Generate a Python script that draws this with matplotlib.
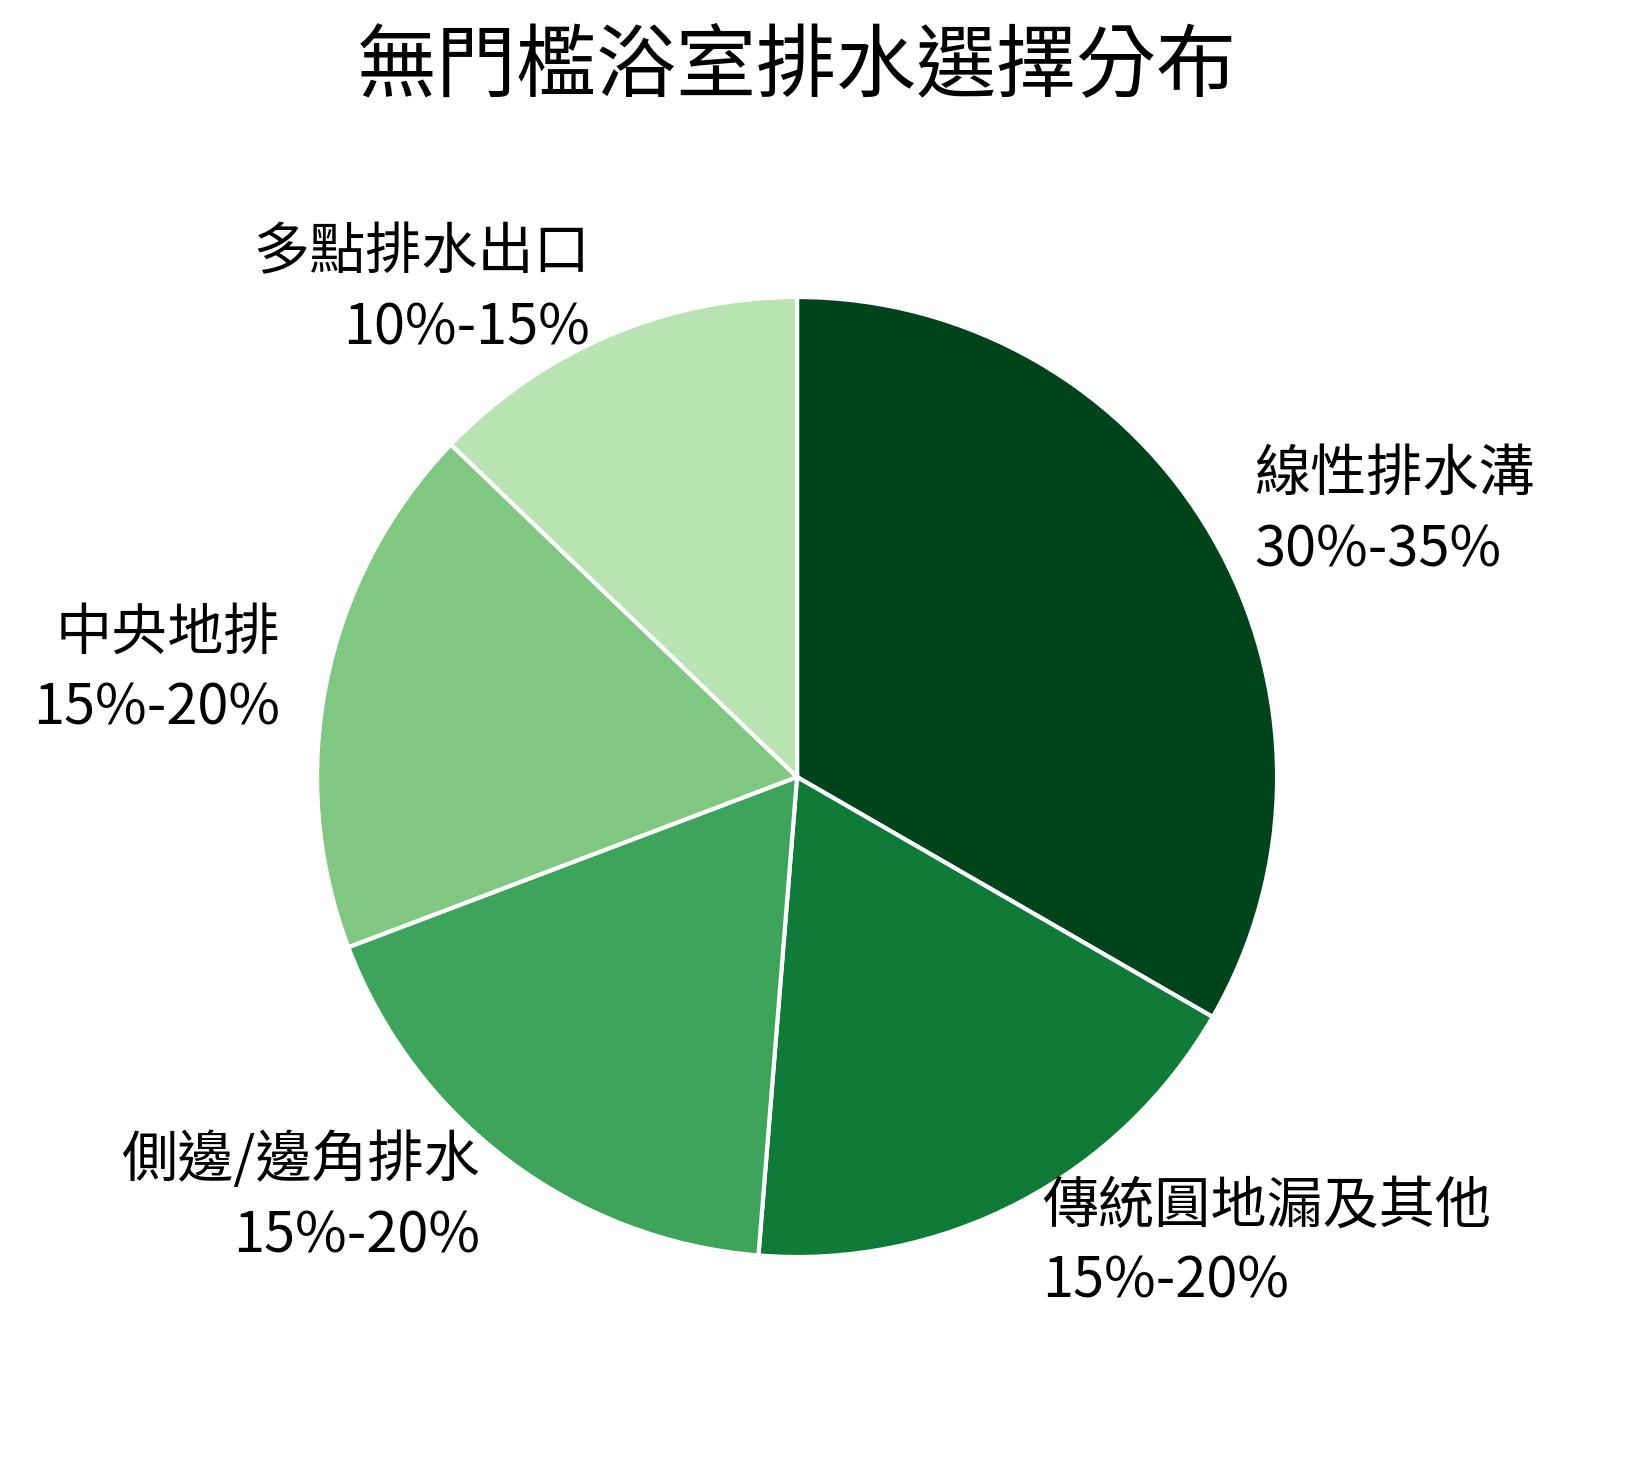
import matplotlib
matplotlib.use("Agg")
import matplotlib.pyplot as plt

plt.rcParams['font.family'] = ['Noto Sans CJK TC', 'DejaVu Sans']

categories = ["線性排水溝", "傳統圓地漏及其他", "側邊/邊角排水", "中央地排", "多點排水出口"]
ranges = ["30%-35%", "15%-20%", "15%-20%", "15%-20%", "10%-15%"]
# midpoint of each range
values = [32.5, 17.5, 17.5, 17.5, 12.5]
colors = ["#00441b", "#107a38", "#3fa45b", "#80c781", "#b9e3b3"]

labels = [f"{c}\n{r}" for c, r in zip(categories, ranges)]

fig = plt.figure(figsize=(8.15, 7.34), dpi=200)
ax = fig.add_axes([0.1209, 0.062, 0.7362, 0.8174])
ax.pie(values, labels=labels, colors=colors, startangle=90, counterclock=False,
       labeldistance=1.1,
       wedgeprops=dict(edgecolor="white", linewidth=1.5),
       textprops=dict(fontsize=20.2, color="black", linespacing=1.4))
ax.set_aspect("equal")

fig.text(0.489, 0.954, "無門檻浴室排水選擇分布", fontsize=28.8, ha="center", va="center")

fig.savefig("out.png", dpi=200, facecolor="white")
